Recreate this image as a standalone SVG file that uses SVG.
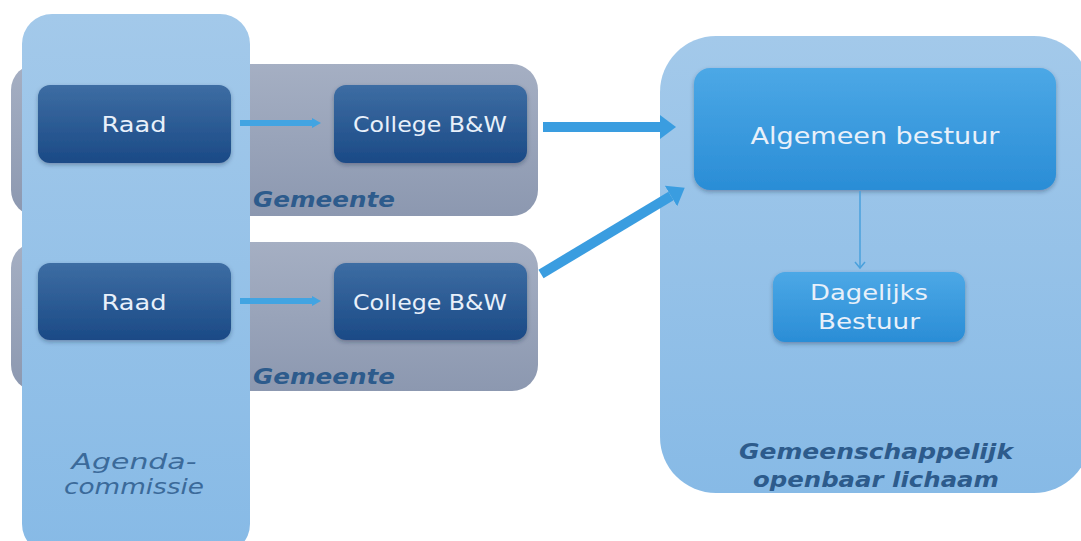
<svg xmlns="http://www.w3.org/2000/svg" width="1081" height="541" viewBox="0 0 1081 541">
<style>
.lbl{font-family:"DejaVu Sans","Liberation Sans",sans-serif;fill:#e8f0fa;text-anchor:middle}
.grp{font-family:"DejaVu Sans","Liberation Sans",sans-serif;font-weight:bold;font-style:italic;fill:#2d5b8c}
.ag{font-family:"DejaVu Sans","Liberation Sans",sans-serif;font-style:italic;fill:#3b6a9a;text-anchor:middle}
.dark{fill:url(#gDark);filter:url(#sh)}
.mid{fill:url(#gMid);filter:url(#sh)}
.gem{fill:url(#gGrey)}
</style>
<defs>
<linearGradient id="gDark" x1="0" y1="0" x2="0" y2="1"><stop offset="0" stop-color="#3d6da3"/><stop offset="1" stop-color="#1b4a86"/></linearGradient>
<linearGradient id="gMid" x1="0" y1="0" x2="0" y2="1"><stop offset="0" stop-color="#4ca8e6"/><stop offset="1" stop-color="#2a8dd6"/></linearGradient>
<linearGradient id="gGrey" x1="0" y1="0" x2="0" y2="1"><stop offset="0" stop-color="#a5afc3"/><stop offset="1" stop-color="#8c98b0"/></linearGradient>
<linearGradient id="gLight" x1="0" y1="0" x2="0" y2="1"><stop offset="0" stop-color="#a3c9ea"/><stop offset="1" stop-color="#87bae6"/></linearGradient>
<filter id="sh" x="-10%" y="-10%" width="120%" height="130%"><feDropShadow dx="0" dy="2" stdDeviation="2" flood-color="#1a2a40" flood-opacity="0.35"/></filter>
<marker id="mBig" markerUnits="userSpaceOnUse" markerWidth="16" markerHeight="24" refX="0" refY="12" orient="auto"><path d="M0,0 L16,12 L0,24 z" fill="#3a9de0"/></marker>
<marker id="mSmall" markerUnits="userSpaceOnUse" markerWidth="9" markerHeight="10" refX="0" refY="5" orient="auto"><path d="M0,0 L9,5 L0,10 z" fill="#42a4e2"/></marker>
<marker id="mThin" markerUnits="userSpaceOnUse" markerWidth="12" markerHeight="12" refX="10" refY="6" orient="auto"><path d="M4,1 L10,6 L4,11" fill="none" stroke="#4aa0dc" stroke-width="1.5"/></marker>
</defs>
<rect width="1081" height="541" fill="#ffffff"/>

<g id="gemeente1"><rect class="gem" x="11" y="64" width="527" height="152" rx="26"/><text class="grp" x="253" y="207" font-size="22" textLength="142" lengthAdjust="spacingAndGlyphs">Gemeente</text></g>
<g id="gemeente2"><rect class="gem" x="11" y="242" width="527" height="149" rx="26"/><text class="grp" x="253" y="384" font-size="22" textLength="142" lengthAdjust="spacingAndGlyphs">Gemeente</text></g>

<g id="agendacommissie"><rect x="22" y="14" width="228" height="540" rx="30" fill="url(#gLight)"/>
<text class="ag" font-size="21"><tspan x="134" y="469" textLength="125" lengthAdjust="spacingAndGlyphs">Agenda-</tspan><tspan x="134" y="494" textLength="140" lengthAdjust="spacingAndGlyphs">commissie</tspan></text></g>

<g id="gol"><rect x="660" y="36" width="430" height="457" rx="56" fill="url(#gLight)"/>
<text class="grp" text-anchor="middle" font-size="21"><tspan x="876" y="459" textLength="274" lengthAdjust="spacingAndGlyphs">Gemeenschappelijk</tspan><tspan x="876" y="487" textLength="246" lengthAdjust="spacingAndGlyphs">openbaar lichaam</tspan></text></g>

<g id="raad1"><rect class="dark" x="38" y="85" width="193" height="78" rx="12"/><text class="lbl" x="134" y="132" font-size="22" textLength="65" lengthAdjust="spacingAndGlyphs">Raad</text></g>
<g id="college1"><rect class="dark" x="334" y="85" width="193" height="78" rx="12"/><text class="lbl" x="430" y="132" font-size="21" textLength="154" lengthAdjust="spacingAndGlyphs">College B&amp;W</text></g>
<g id="raad2"><rect class="dark" x="38" y="263" width="193" height="77" rx="12"/><text class="lbl" x="134" y="310" font-size="22" textLength="65" lengthAdjust="spacingAndGlyphs">Raad</text></g>
<g id="college2"><rect class="dark" x="334" y="263" width="193" height="77" rx="12"/><text class="lbl" x="430" y="310" font-size="21" textLength="154" lengthAdjust="spacingAndGlyphs">College B&amp;W</text></g>
<g id="algemeen"><rect class="mid" x="694" y="68" width="362" height="122" rx="16"/><text class="lbl" x="875" y="144" font-size="23" textLength="249" lengthAdjust="spacingAndGlyphs">Algemeen bestuur</text></g>
<g id="dagelijks"><rect class="mid" x="773" y="272" width="192" height="70" rx="12"/><text class="lbl" font-size="22"><tspan x="869" y="300" textLength="118" lengthAdjust="spacingAndGlyphs">Dagelijks</tspan><tspan x="869" y="329" textLength="102" lengthAdjust="spacingAndGlyphs">Bestuur</tspan></text></g>

<g id="connectors">
<line x1="240" y1="123" x2="312" y2="123" stroke="#42a4e2" stroke-width="6" marker-end="url(#mSmall)"/>
<line x1="240" y1="301" x2="312" y2="301" stroke="#42a4e2" stroke-width="6" marker-end="url(#mSmall)"/>
<line x1="543" y1="127" x2="660" y2="127" stroke="#3a9de0" stroke-width="10" marker-end="url(#mBig)"/>
<line x1="541" y1="274" x2="671" y2="196" stroke="#3a9de0" stroke-width="10" marker-end="url(#mBig)"/>
<line x1="860" y1="191" x2="860" y2="268" stroke="#4aa0dc" stroke-width="1.5" marker-end="url(#mThin)"/>
</g>
</svg>
